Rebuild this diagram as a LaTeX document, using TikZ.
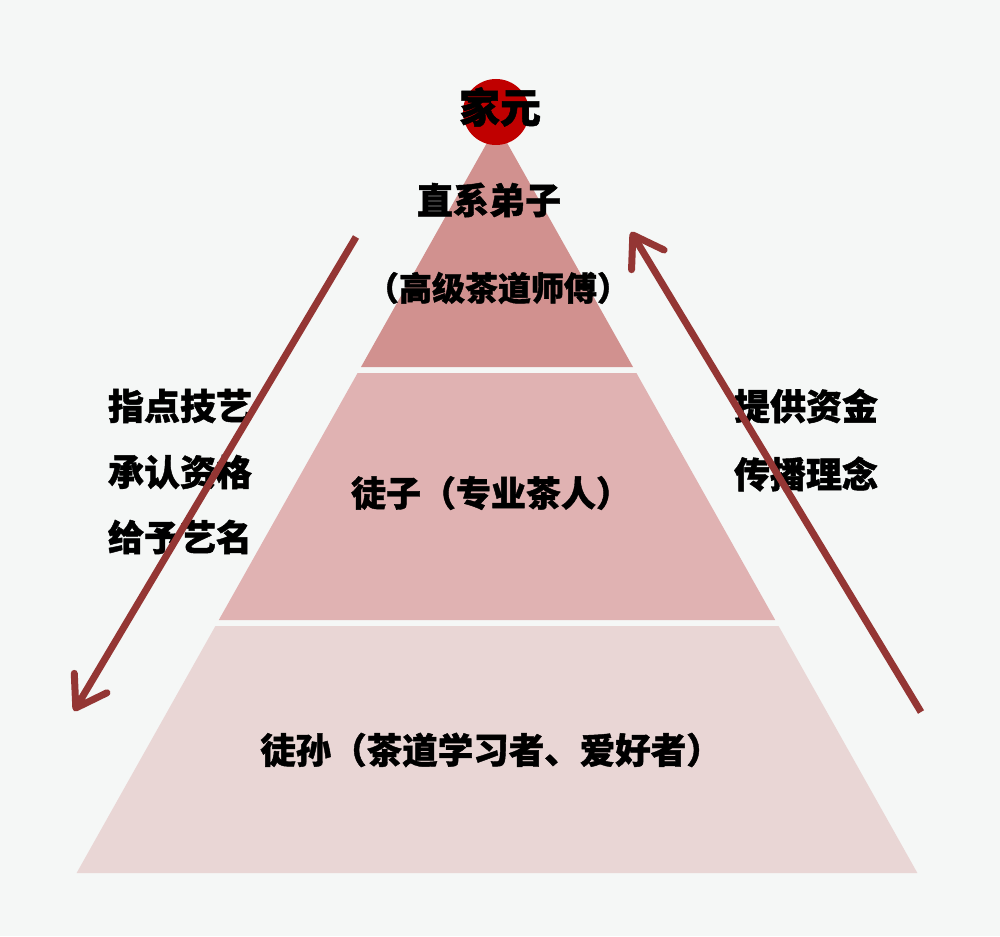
\documentclass[tikz,border=0pt]{standalone}
\usepackage{fontspec}
\newfontfamily\cjk{Noto Sans CJK SC}[BoldFeatures={FakeBold=1.2}]
\usetikzlibrary{arrows.meta}
\definecolor{bg}{HTML}{F5F7F6}
\definecolor{layerA}{HTML}{D1918F}
\definecolor{layerB}{HTML}{E0B2B2}
\definecolor{layerC}{HTML}{E9D6D5}
\definecolor{circred}{HTML}{C00000}
\definecolor{arrowred}{HTML}{943634}
\begin{document}
\begin{tikzpicture}[x=1pt,y=-1pt,
  lbl/.style={font=\cjk\bfseries\fontsize{35}{40}\selectfont, text=black, inner sep=0pt},
  arr/.style={line width=7pt, draw=arrowred, -{Straight Barb[length=29pt,width=38pt,round]}}]
\fill[bg] (0,0) rectangle (1000,936);
\useasboundingbox (0,0) rectangle (1000,936);
% layers
\fill[layerA] (497,125) -- (633,367) -- (361,367) -- cycle;
\fill[layerB] (357.6,373) -- (636.4,373) -- (775.2,620) -- (218.8,620) -- cycle;
\fill[layerC] (215.4,626) -- (778.6,626) -- (917.4,873) -- (76.6,873) -- cycle;
% top circle
\fill[circred] (496,112) circle (33pt);
\node[lbl, font=\cjk\bfseries\fontsize{41}{44}\selectfont] (jiayuan) at (500,107) {家元};
% layer texts
\node[lbl, font=\cjk\bfseries\fontsize{36}{40}\selectfont] (zhixi) at (489,200) {直系弟子};
\node[lbl, font=\cjk\bfseries\fontsize{33}{36}\selectfont] (gaoji) at (498,288) {（高级茶道师傅）};
\node[lbl] (tuzi) at (491,493) {徒子（专业茶人）};
\node[lbl, font=\cjk\bfseries\fontsize{35.5}{40}\selectfont] (tusun) at (491,750) {徒孙（茶道学习者、爱好者）};
% side texts
\node[lbl, font=\cjk\bfseries\fontsize{36}{40}\selectfont] (l1t) at (180,406) {指点技艺};
\node[lbl, font=\cjk\bfseries\fontsize{36}{40}\selectfont] (l2t) at (180,472) {承认资格};
\node[lbl, font=\cjk\bfseries\fontsize{36}{40}\selectfont] (l3t) at (180,537) {给予艺名};
\node[lbl, font=\cjk\bfseries\fontsize{36}{40}\selectfont] (r1t) at (806,406) {提供资金};
\node[lbl, font=\cjk\bfseries\fontsize{36}{40}\selectfont] (r2t) at (806,474) {传播理念};
% arrows
\coordinate (la) at (356,237);
\coordinate (lb) at (74,711);
\draw[arr] (la) -- (lb);
\coordinate (ra) at (921,712);
\coordinate (rb) at (631,232);
\draw[arr] (ra) -- (rb);
\end{tikzpicture}
\end{document}
